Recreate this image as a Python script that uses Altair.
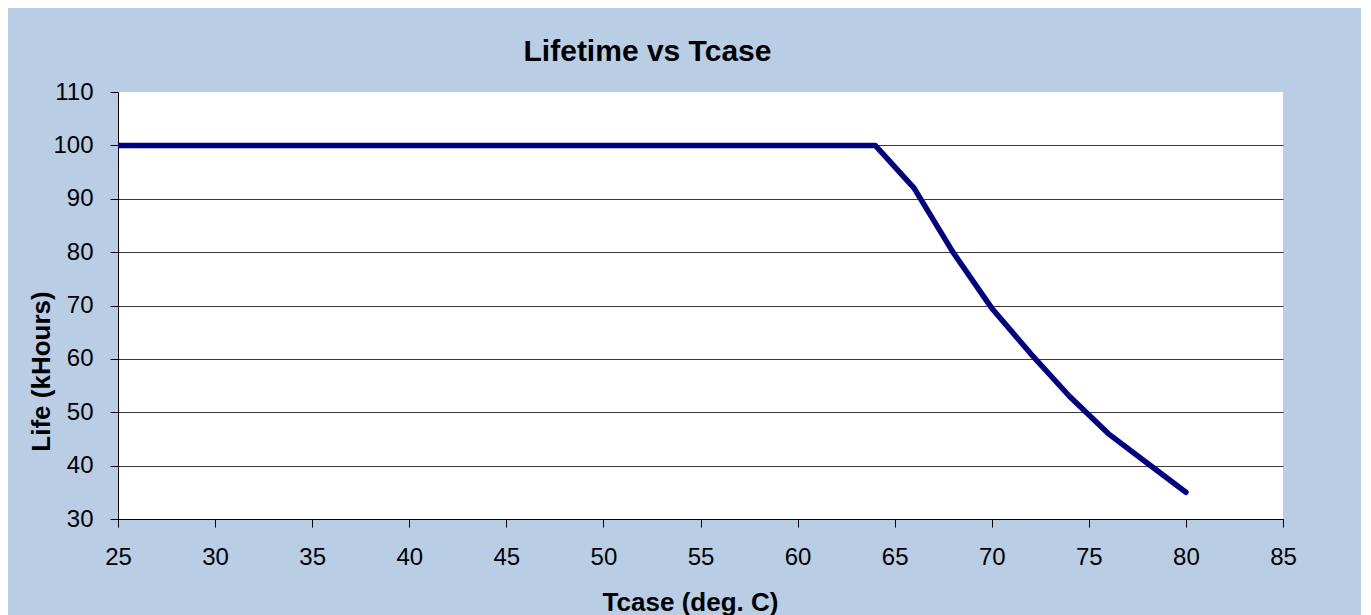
import altair as alt
import pandas as pd

tcase = [25, 30, 35, 40, 45, 50, 55, 60, 62, 64, 66, 68, 70, 72, 74, 76, 78, 80]
life = [100, 100, 100, 100, 100, 100, 100, 100, 100, 100, 92, 80, 69.5, 61, 53, 46, 40.5, 35]

x_ticks = [25, 30, 35, 40, 45, 50, 55, 60, 65, 70, 75, 80, 85]
y_ticks = [30, 40, 50, 60, 70, 80, 90, 100, 110]

df = pd.DataFrame({"Tcase": tcase, "Life": life})

FONT = "Liberation Sans"

chart = alt.Chart(df).mark_line(
    color="#000080", strokeWidth=5.5, strokeCap="round", strokeJoin="round", clip=True
).encode(
    x=alt.X("Tcase:Q",
            scale=alt.Scale(domain=[25, 85], nice=False, zero=False),
            axis=alt.Axis(values=x_ticks, title="Tcase (deg. C)", grid=False,
                          labelFontSize=24, labelPadding=18, tickSize=8, labelFlush=False,
                          titleFontSize=26, titleFontWeight="bold",
                          titleX=572, titleY=83, titleBaseline="middle", titleAlign="center")),
    y=alt.Y("Life:Q",
            scale=alt.Scale(domain=[30, 110], nice=False, zero=False),
            axis=alt.Axis(values=y_ticks, title="Life (kHours)",
                          grid=True,
                          gridColor={"condition": {"test": "datum.value === 110", "value": "transparent"}, "value": "#3a3a3a"},
                          labelFontSize=24, labelPadding=17, tickSize=8, labelFlush=False,
                          titleFontSize=26, titleFontWeight="bold",
                          titleAngle=270, titleX=-77, titleY=279,
                          titleBaseline="middle", titleAlign="center")),
).properties(
    width=1165,
    height=427,
    title=alt.TitleParams("Lifetime vs Tcase", fontSize=30, fontWeight="bold",
                          font=FONT, color="black", anchor="middle", dx=-53, offset=13),
    padding={"left": 110, "top": 84, "right": 78, "bottom": 96},
    autosize=alt.AutoSizeParams(type="none"),
    background="#B9CDE5",
).configure_view(
    fill="white", stroke=None
).configure_axis(
    labelFont=FONT, titleFont=FONT, labelColor="black", titleColor="black",
    domainColor="black", tickColor="black", domainWidth=1, tickWidth=1, gridWidth=1,
)

chart.save("out.html", embed_options={"renderer": "svg", "actions": False})
